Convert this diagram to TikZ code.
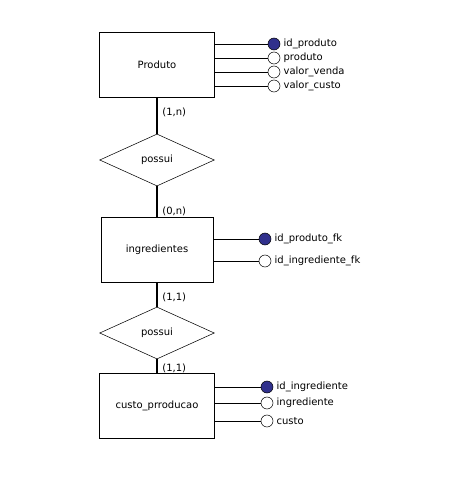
\documentclass[tikz,border=0pt]{standalone}
\usepackage{fontspec}
\setmainfont{DejaVu Sans}
\usetikzlibrary{shapes.geometric}
\definecolor{keyblue}{RGB}{48,48,140}
\tikzset{
er/.style={x=0.75pt,y=-0.75pt,font=\fontsize{7.5}{9}\selectfont},
entity/.style={rectangle,draw,minimum width=86pt,minimum height=49pt,inner sep=0pt},
relation/.style={diamond,draw,minimum width=86pt,minimum height=39pt,inner sep=0pt},
key/.style={circle,draw,fill=keyblue,minimum size=9pt,inner sep=0pt,
    label={[label distance=-1pt]right:#1}},
attr/.style={circle,draw,fill=white,minimum size=9pt,inner sep=0pt,
    label={[label distance=-1pt]right:#1}},
link/.style={line width=1.5pt},
}

\begin{document}
\begin{tikzpicture}[er]
    \useasboundingbox (0,0) rectangle (458,485);

    \node[entity] (prod) at (157,64.5) {Produto};
    \node[relation] (r1) at (157,160) {possui};
    \node[entity,minimum width=84pt] (ingr) at (157,250) {ingredientes};
    \node[relation] (r2) at (157,333) {possui};
    \node[entity] (cust) at (157,405.5) {custo\_prroducao};

    % atributos
    \node[key={id\_produto}] (a1) at (274,44) {};
    \node[attr={produto}] (a2) at (274,58) {};
    \node[attr={valor\_venda}] (a3) at (274,72) {};
    \node[attr={valor\_custo}] (a4) at (274,86) {};
    \node[key={id\_produto\_fk}] (b1) at (265,239) {};
    \node[attr={id\_ingrediente\_fk}] (b2) at (265,261) {};
    \node[key={id\_ingrediente}] (c1) at (267,387) {};
    \node[attr={ingrediente}] (c2) at (267,403) {};
    \node[attr={custo}] (c3) at (267,421) {};

    \foreach \a/\e in {a1/prod,a2/prod,a3/prod,a4/prod,b1/ingr,b2/ingr,c1/cust,c2/cust,c3/cust}
        \draw (\e.east |- \a) -- (\a);

    \path[link]
        (prod) edge node[right,pos=0.4] {(1,n)} (r1)
        (r1) edge node[right,pos=0.8] {(0,n)} (ingr)
        (ingr) edge node[right,pos=0.62] {(1,1)} (r2)
        (r2) edge node[right,pos=0.7] {(1,1)} (cust)
    ;
\end{tikzpicture}
\end{document}
